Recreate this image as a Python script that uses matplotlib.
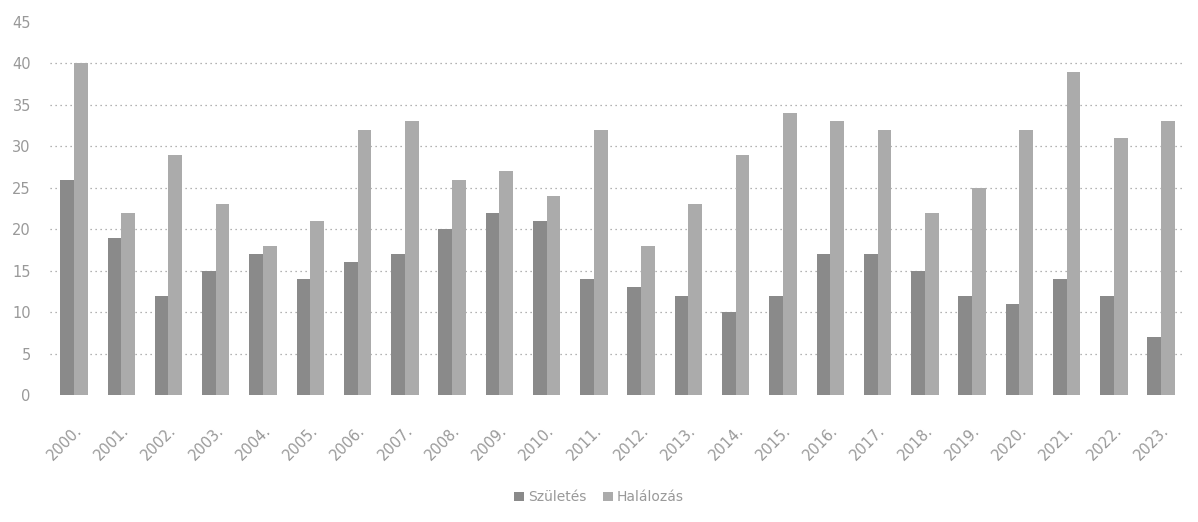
import numpy as np
import matplotlib
matplotlib.use("Agg")
import matplotlib.pyplot as plt

# data
years = [f"{y}." for y in range(2000, 2024)]
szuletes = [26, 19, 12, 15, 17, 14, 16, 17, 20, 22, 21, 14,
            13, 12, 10, 12, 17, 17, 15, 12, 11, 14, 12, 7]
halalozas = [40, 22, 29, 23, 18, 21, 32, 33, 26, 27, 24, 32,
             18, 23, 29, 34, 33, 32, 22, 25, 32, 39, 31, 33]
y_ticks = list(range(0, 50, 5))

plt.rcParams['font.family'] = ['DejaVu Sans']

fig = plt.figure(figsize=(11.98, 5.22), dpi=100)
ax = fig.add_axes([0.042, 0.243, 0.947, 0.715])

x = np.arange(len(years))
w = 0.29
ax.bar(x - w / 2, szuletes, width=w, color='#8a8a8a', label='Születés', zorder=2)
ax.bar(x + w / 2, halalozas, width=w, color='#ababab', label='Halálozás', zorder=2)

ax.set_xlim(-0.5, len(years) - 0.5)
ax.set_ylim(0, 45)
ax.set_yticks(y_ticks)
ax.set_xticks(x)
ax.set_xticklabels(years, rotation=45, ha='right', rotation_mode='anchor')

ax.yaxis.grid(True, linestyle=(0, (1, 3)), color='#9a9a9a', linewidth=0.9, zorder=0)
ax.get_ygridlines()[-1].set_visible(False)
ax.get_ygridlines()[0].set_visible(False)

for s in ax.spines.values():
    s.set_visible(False)
ax.tick_params(axis='both', length=0, colors='#999999', labelsize=10.5)
ax.tick_params(axis='x', pad=20)
ax.tick_params(axis='y', pad=14)

fig.legend(loc='lower center', bbox_to_anchor=(0.5, 0.01), ncol=2, frameon=False,
           fontsize=10, labelcolor='#999999', handlelength=0.7, handleheight=0.7,
           columnspacing=1.2, handletextpad=0.3)

fig.savefig('out.png', dpi=100)
